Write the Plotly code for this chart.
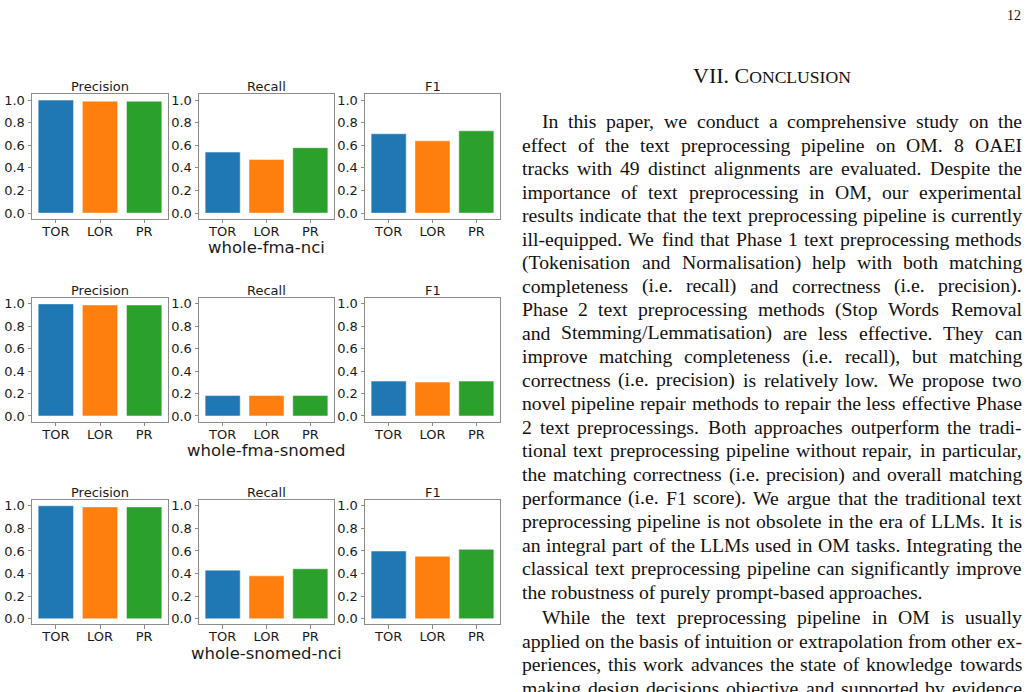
import glob, os, struct
import plotly.graph_objects as go

# ---------------- data ----------------
categories = ["TOR", "LOR", "PR"]
datasets = ["whole-fma-nci", "whole-fma-snomed", "whole-snomed-nci"]
metrics = ["Precision", "Recall", "F1"]

fma_nci_precision = [1.00, 0.99, 0.99]
fma_nci_recall = [0.54, 0.474, 0.579]
fma_nci_f1 = [0.702, 0.640, 0.728]

fma_snomed_precision = [1.00, 0.99, 0.99]
fma_snomed_recall = [0.182, 0.182, 0.182]
fma_snomed_f1 = [0.311, 0.302, 0.311]

snomed_nci_precision = [1.00, 0.99, 0.99]
snomed_nci_recall = [0.430, 0.380, 0.442]
snomed_nci_f1 = [0.599, 0.553, 0.614]

bar_colors = ["#1f77b4", "#ff7f0e", "#2ca02c"]
y_ticks = [0.0, 0.2, 0.4, 0.6, 0.8, 1.0]
y_tick_labels = ["0.0", "0.2", "0.4", "0.6", "0.8", "1.0"]

heading_main = "VII. C"
heading_caps = "ONCLUSION"
page_number = "12"

paragraph1 = [
    "In this paper, we conduct a comprehensive study on the",
    "effect of the text preprocessing pipeline on OM. 8 OAEI",
    "tracks with 49 distinct alignments are evaluated. Despite the",
    "importance of text preprocessing in OM, our experimental",
    "results indicate that the text preprocessing pipeline is currently",
    "ill-equipped. We find that Phase 1 text preprocessing methods",
    "(Tokenisation and Normalisation) help with both matching",
    "completeness (i.e. recall) and correctness (i.e. precision).",
    "Phase 2 text preprocessing methods (Stop Words Removal",
    "and Stemming/Lemmatisation) are less effective. They can",
    "improve matching completeness (i.e. recall), but matching",
    "correctness (i.e. precision) is relatively low. We propose two",
    "novel pipeline repair methods to repair the less effective Phase",
    "2 text preprocessings. Both approaches outperform the tradi-",
    "tional text preprocessing pipeline without repair, in particular,",
    "the matching correctness (i.e. precision) and overall matching",
    "performance (i.e. F1 score). We argue that the traditional text",
    "preprocessing pipeline is not obsolete in the era of LLMs. It is",
    "an integral part of the LLMs used in OM tasks. Integrating the",
    "classical text preprocessing pipeline can significantly improve",
    "the robustness of purely prompt-based approaches.",
]
paragraph2 = [
    "While the text preprocessing pipeline in OM is usually",
    "applied on the basis of intuition or extrapolation from other ex-",
    "periences, this work advances the state of knowledge towards",
    "making design decisions objective and supported by evidence",
]

values = {
    ("whole-fma-nci", "Precision"): fma_nci_precision,
    ("whole-fma-nci", "Recall"): fma_nci_recall,
    ("whole-fma-nci", "F1"): fma_nci_f1,
    ("whole-fma-snomed", "Precision"): fma_snomed_precision,
    ("whole-fma-snomed", "Recall"): fma_snomed_recall,
    ("whole-fma-snomed", "F1"): fma_snomed_f1,
    ("whole-snomed-nci", "Precision"): snomed_nci_precision,
    ("whole-snomed-nci", "Recall"): snomed_nci_recall,
    ("whole-snomed-nci", "F1"): snomed_nci_f1,
}

# ---------------- layout helpers ----------------
W, H = 1030, 692
def px(x):
    return x / W
def py(y):
    return 1 - y / H

col_px = [(32, 168), (199, 334), (365, 500)]
row_px = [(93, 218), (298, 422), (501, 626)]
title_y = [85, 290, 493]
sub_y = [247, 451, 655]

# ---------------- font metrics for justified text ----------------
def find_font(name):
    for root in ["/usr/share/fonts", "/usr/local/share/fonts", os.path.expanduser("~/.fonts"), "/usr/share/fonts/truetype"]:
        hits = glob.glob(os.path.join(root, "**", name), recursive=True)
        if hits:
            return hits[0]
    return None

def make_measure(path):
    try:
        data = open(path, "rb").read()
        nt = struct.unpack(">H", data[4:6])[0]
        tables = {}
        for i in range(nt):
            tag, cs, off, ln = struct.unpack(">4sIII", data[12 + 16 * i:28 + 16 * i])
            tables[tag.decode("latin1")] = off
        head = tables["head"]
        upem = struct.unpack(">H", data[head + 18:head + 20])[0]
        hhea = tables["hhea"]
        nhm = struct.unpack(">H", data[hhea + 34:hhea + 36])[0]
        hmtx = tables["hmtx"]
        adv = [struct.unpack(">H", data[hmtx + 4 * i:hmtx + 4 * i + 2])[0] for i in range(nhm)]
        cmap = tables["cmap"]
        n = struct.unpack(">H", data[cmap + 2:cmap + 4])[0]
        sub = None
        for i in range(n):
            pid, eid, off = struct.unpack(">HHI", data[cmap + 4 + 8 * i:cmap + 12 + 8 * i])
            if pid == 3 and eid == 1:
                sub = cmap + off
        segx2 = struct.unpack(">H", data[sub + 6:sub + 8])[0]
        sc = segx2 // 2
        ends = struct.unpack(">%dH" % sc, data[sub + 14:sub + 14 + segx2])
        so = sub + 16 + segx2
        starts = struct.unpack(">%dH" % sc, data[so:so + segx2])
        do = so + segx2
        deltas = struct.unpack(">%dh" % sc, data[do:do + segx2])
        ro = do + segx2
        ros = struct.unpack(">%dH" % sc, data[ro:ro + segx2])
        cache = {}
        def gid(c):
            for i in range(sc):
                if ends[i] >= c:
                    if starts[i] > c:
                        return 0
                    if ros[i] == 0:
                        return (c + deltas[i]) & 0xFFFF
                    addr = ro + 2 * i + ros[i] + 2 * (c - starts[i])
                    g = struct.unpack(">H", data[addr:addr + 2])[0]
                    return (g + deltas[i]) & 0xFFFF if g else 0
            return 0
        def measure(text, size):
            tot = 0
            for ch in text:
                if ch not in cache:
                    g = gid(ord(ch))
                    cache[ch] = adv[min(g, nhm - 1)]
                tot += cache[ch]
            return tot * size / upem
        return measure
    except Exception:
        return None

font_path = find_font("LiberationSerif-Regular.ttf")
measure = make_measure(font_path) if font_path else None
if measure is None:
    def measure(text, size):
        return len(text) * 0.45 * size

# ---------------- figure ----------------
fig = go.Figure()
axis_color = "#8c8c8c"
tick_font = dict(family="DejaVu Sans", size=13, color="#1a1a1a")

annotations = []
k = 0
for r, ds in enumerate(datasets):
    for c, m in enumerate(metrics):
        k += 1
        xa = "x" if k == 1 else "x%d" % k
        ya = "y" if k == 1 else "y%d" % k
        fig.add_trace(go.Bar(
            x=categories, y=values[(ds, m)], xaxis=xa, yaxis=ya,
            marker=dict(color=bar_colors, line=dict(color="rgba(255,255,255,0.6)", width=0.8)),
            width=0.8, showlegend=False, hoverinfo="x+y",
        ))
        x0, x1 = col_px[c]
        y0, y1 = row_px[r]
        xkey = "xaxis" if k == 1 else "xaxis%d" % k
        ykey = "yaxis" if k == 1 else "yaxis%d" % k
        fig.layout[xkey] = dict(
            domain=[px(x0), px(x1)], anchor=ya, range=[-0.54, 2.54],
            showline=True, mirror=True, linecolor=axis_color, linewidth=1,
            ticks="outside", ticklen=3.5, tickcolor=axis_color, tickwidth=1,
            showgrid=False, zeroline=False, tickfont=tick_font, fixedrange=True,
            ticklabelstandoff=-3,
        )
        fig.layout[ykey] = dict(
            domain=[py(y1), py(y0)], anchor=xa, range=[-0.05, 1.05],
            tickvals=y_ticks, ticktext=y_tick_labels,
            showline=True, mirror=True, linecolor=axis_color, linewidth=1,
            ticks="outside", ticklen=3.5, tickcolor=axis_color, tickwidth=1,
            showgrid=False, zeroline=False, tickfont=tick_font, fixedrange=True,
        )
        annotations.append(dict(
            text=m, x=px((x0 + x1) / 2), y=py(title_y[r]), xref="paper", yref="paper",
            xanchor="center", yanchor="middle", showarrow=False,
            font=dict(family="DejaVu Sans", size=13, color="#1a1a1a"),
        ))
    annotations.append(dict(
        text=ds, x=px((col_px[1][0] + col_px[1][1]) / 2), y=py(sub_y[r]), xref="paper", yref="paper",
        xanchor="center", yanchor="middle", showarrow=False,
        font=dict(family="DejaVu Sans", size=16.5, color="#1a1a1a"),
    ))

# ---------------- right-hand text column ----------------
serif = "Liberation Serif, Times New Roman, serif"
text_left, text_right = 522, 1022
indent = 19.5
line_step = 23.65
text_color = "#111111"

# font size: IEEE leading (1.2) capped so the tightest line still fits
fs = line_step / 1.2
for i, line in enumerate(paragraph1 + paragraph2):
    words = line.split(" ")
    avail = text_right - text_left - (indent if i in (0, len(paragraph1)) else 0)
    need = sum(measure(w, 1.0) for w in words) + 0.2 * (len(words) - 1)
    fs = min(fs, avail / need)

def add_line(line, y, first, last):
    words = line.split(" ")
    left = text_left + (indent if first else 0)
    widths = [measure(w, fs) for w in words]
    if last or len(words) == 1:
        gap = measure(" ", fs)
    else:
        gap = (text_right - left - sum(widths)) / (len(words) - 1)
    x = left
    for w, wd in zip(words, widths):
        annotations.append(dict(
            text=w, x=px(x), y=py(y), xref="paper", yref="paper",
            xanchor="left", yanchor="middle", showarrow=False, xshift=-1,
            font=dict(family=serif, size=fs, color=text_color), borderpad=0,
        ))
        x += wd + gap

y = 120
for i, line in enumerate(paragraph1):
    add_line(line, y, i == 0, i == len(paragraph1) - 1)
    y += line_step
y += 2.4
for i, line in enumerate(paragraph2):
    add_line(line, y, i == 0, False)
    y += line_step

hs = 22
annotations.append(dict(
    text=heading_main + '<span style="font-size:%.1fpx">' % (hs * 0.8) + heading_caps + "</span>",
    x=px((text_left + text_right) / 2), y=py(74), xref="paper", yref="paper",
    xanchor="center", yanchor="middle", showarrow=False,
    font=dict(family=serif, size=hs, color=text_color),
))
annotations.append(dict(
    text=page_number, x=px(1023), y=py(14), xref="paper", yref="paper",
    xanchor="right", yanchor="middle", showarrow=False,
    font=dict(family=serif, size=14, color=text_color),
))

fig.update_layout(
    width=W, height=H, margin=dict(l=0, r=0, t=0, b=0),
    paper_bgcolor="white", plot_bgcolor="white",
    bargap=0.2, annotations=annotations,
)

fig.write_html("out.html")
